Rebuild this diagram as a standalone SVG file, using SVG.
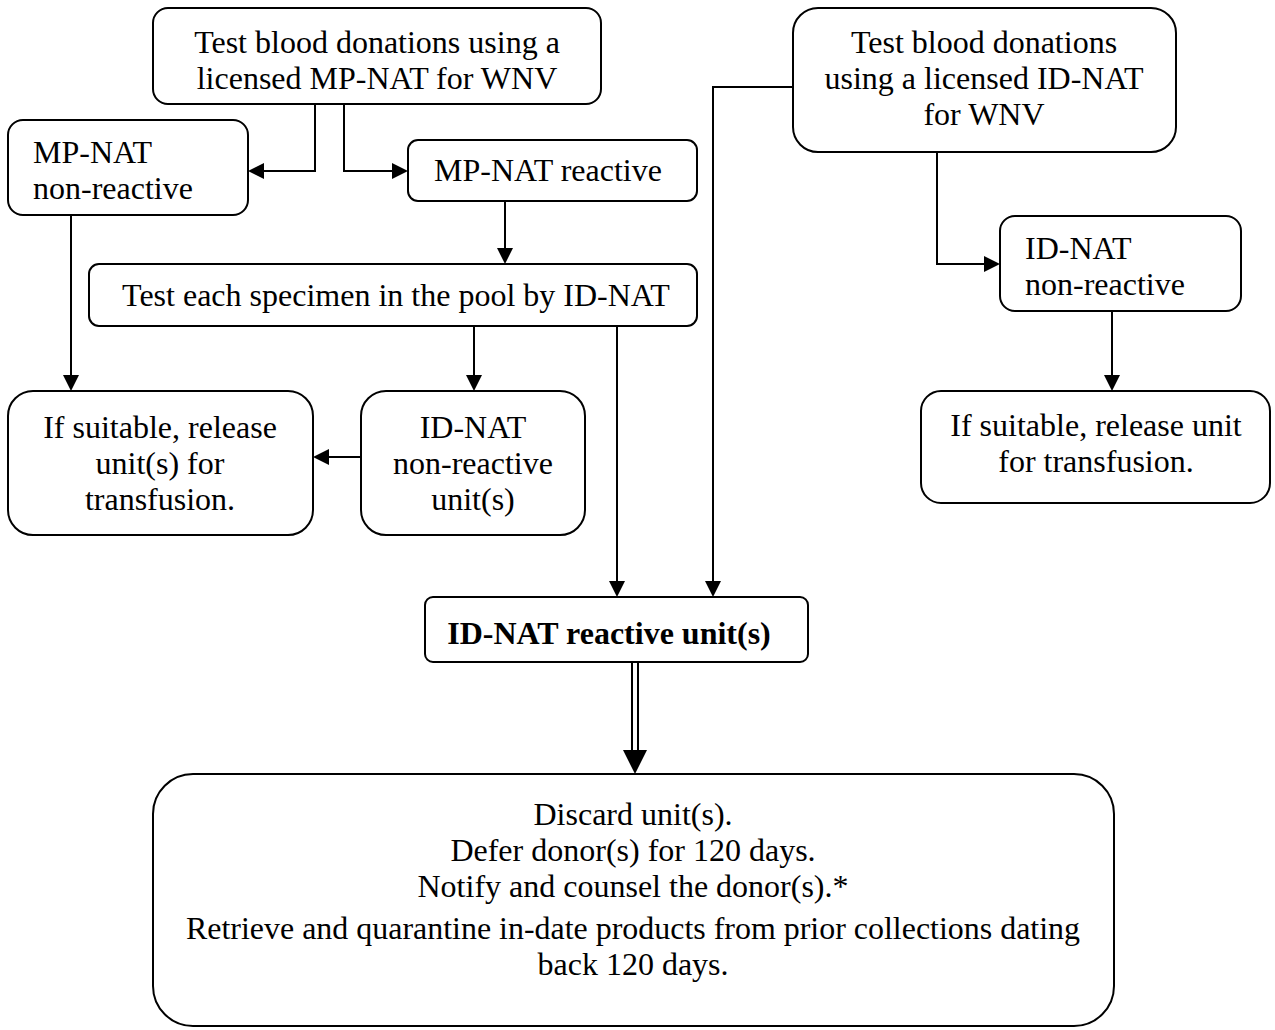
<svg xmlns="http://www.w3.org/2000/svg" width="1275" height="1030" viewBox="0 0 1275 1030">
<style>
.box{fill:#fff;stroke:#000;stroke-width:2}
.t{font-family:"Liberation Serif","Times New Roman",serif;font-size:32px;fill:#000}
.c{text-anchor:middle}
.b{font-weight:bold}
.ln{fill:none;stroke:#000;stroke-width:2}
</style>
<rect width="1275" height="1030" fill="#fff"/>
<g id="connectors">
<path class="ln" d="M315,104 V171 H262"/>
<polygon points="248,171 264,163 264,179" fill="#000"/>
<path class="ln" d="M344,104 V171 H395"/>
<polygon points="408,171 392,163 392,179" fill="#000"/>
<path class="ln" d="M505,201 V250"/>
<polygon points="505,264 497,248 513,248" fill="#000"/>
<path class="ln" d="M71,215 V377"/>
<polygon points="71,391 63,375 79,375" fill="#000"/>
<path class="ln" d="M474,326 V377"/>
<polygon points="474,391 466,375 482,375" fill="#000"/>
<path class="ln" d="M361,457 H327"/>
<polygon points="313,457 329,449 329,465" fill="#000"/>
<path class="ln" d="M617,326 V583"/>
<polygon points="617,597 609,581 625,581" fill="#000"/>
<path class="ln" d="M793,87 H713 V583"/>
<polygon points="713,597 705,581 721,581" fill="#000"/>
<path class="ln" d="M937,152 V264 H986"/>
<polygon points="1000,264 984,256 984,272" fill="#000"/>
<path class="ln" d="M1112,311 V377"/>
<polygon points="1112,391 1104,375 1120,375" fill="#000"/>
<path class="ln" d="M632,662 V752 M638,662 V752"/>
<polygon points="635,774 623,750 647,750" fill="#000"/>
</g>
<g id="n1">
<rect class="box" x="153" y="8" width="448" height="96" rx="15"/>
<text class="t c" x="377" y="53">Test blood donations using a</text>
<text class="t c" x="377" y="89">licensed MP-NAT for WNV</text>
</g>
<g id="n2">
<rect class="box" x="8" y="120" width="240" height="95" rx="15"/>
<text class="t" x="33" y="163">MP-NAT</text>
<text class="t" x="33" y="199">non-reactive</text>
</g>
<g id="n3">
<rect class="box" x="408" y="140" width="289" height="61" rx="10"/>
<text class="t c" x="548" y="181">MP-NAT reactive</text>
</g>
<g id="n4">
<rect class="box" x="89" y="264" width="608" height="62" rx="10"/>
<text class="t c" x="396" y="306">Test each specimen in the pool by ID-NAT</text>
</g>
<g id="n5">
<rect class="box" x="8" y="391" width="305" height="144" rx="25"/>
<text class="t c" x="160" y="438">If suitable, release</text>
<text class="t c" x="160" y="474">unit(s) for</text>
<text class="t c" x="160" y="510">transfusion.</text>
</g>
<g id="n6">
<rect class="box" x="361" y="391" width="224" height="144" rx="25"/>
<text class="t c" x="473" y="438">ID-NAT</text>
<text class="t c" x="473" y="474">non-reactive</text>
<text class="t c" x="473" y="510">unit(s)</text>
</g>
<g id="n7">
<rect class="box" x="425" y="597" width="383" height="65" rx="8"/>
<text class="t c b" x="609" y="644">ID-NAT reactive unit(s)</text>
</g>
<g id="n8">
<rect class="box" x="793" y="8" width="383" height="144" rx="25"/>
<text class="t c" x="984" y="53">Test blood donations</text>
<text class="t c" x="984" y="89">using a licensed ID-NAT</text>
<text class="t c" x="984" y="125">for WNV</text>
</g>
<g id="n9">
<rect class="box" x="1000" y="216" width="241" height="95" rx="15"/>
<text class="t" x="1025" y="259">ID-NAT</text>
<text class="t" x="1025" y="295">non-reactive</text>
</g>
<g id="n10">
<rect class="box" x="921" y="391" width="349" height="112" rx="20"/>
<text class="t c" x="1096" y="436">If suitable, release unit</text>
<text class="t c" x="1096" y="472">for transfusion.</text>
</g>
<g id="n11">
<rect class="box" x="153" y="774" width="961" height="252" rx="40"/>
<text class="t c" x="633" y="825">Discard unit(s).</text>
<text class="t c" x="633" y="861">Defer donor(s) for 120 days.</text>
<text class="t c" x="633" y="897">Notify and counsel the donor(s).*</text>
<text class="t c" x="633" y="939" textLength="894" lengthAdjust="spacingAndGlyphs">Retrieve and quarantine in-date products from prior collections dating</text>
<text class="t c" x="633" y="975">back 120 days.</text>
</g>
</svg>
